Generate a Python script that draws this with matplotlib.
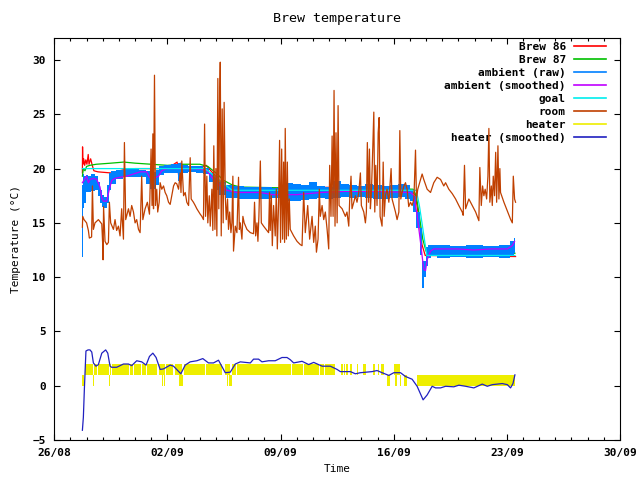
import matplotlib
matplotlib.use("Agg")
import matplotlib.pyplot as plt
from matplotlib.lines import Line2D
from matplotlib.ticker import MultipleLocator

plt.rcParams['font.family'] = ['DejaVu Sans Mono']
plt.rcParams['font.size'] = 8
plt.rcParams['font.weight'] = 'bold'

# x values are days since 26/08 00:00
tick_days = [0, 7, 14, 21, 28, 35]
tick_labels = ["26/08", "02/09", "09/09", "16/09", "23/09", "30/09"]

brew86_t = [1.74, 1.75, 1.77, 1.82, 1.88, 1.95, 2.02, 2.10, 2.15, 2.25, 2.35, 2.45, 2.70, 3.50,
            4.30, 5.00, 7.00, 7.60, 7.70, 7.80, 7.90, 9.00, 9.40, 9.80, 10.20, 10.70, 11.50,
            14.0, 18.0, 22.10, 22.35, 22.55, 22.75, 22.95, 28.54]
brew86_v = [19.6, 22.0, 20.4, 20.9, 20.3, 20.8, 20.4, 21.3, 20.4, 20.9, 20.3, 19.8, 19.7, 19.6,
            19.9, 20.0, 20.0, 20.6, 19.3, 20.5, 20.0, 20.1, 20.3, 19.6, 18.9, 18.3, 18.1,
            18.2, 18.3, 18.0, 17.5, 15.5, 13.0, 12.0, 11.9]

brew87_t = [1.74, 1.80, 1.90, 2.00, 2.20, 2.60, 3.50, 4.30, 5.00, 6.00, 7.00, 8.00, 9.00, 9.50,
            10.00, 10.50, 11.00, 11.50, 15.00, 20.00, 22.20, 22.40, 22.60, 22.80, 23.00, 28.50]
brew87_v = [19.3, 20.0, 19.8, 20.2, 20.3, 20.4, 20.5, 20.6, 20.5, 20.4, 20.3, 20.4, 20.4, 20.2,
            19.6, 18.9, 18.5, 18.3, 18.2, 18.2, 18.1, 17.5, 15.5, 13.5, 12.4, 12.2]

ambient_raw_t = [1.72, 1.80, 1.90, 2.00, 2.20, 2.40, 2.60, 2.80, 2.90, 3.00, 3.20, 3.35, 3.45,
                 3.60, 4.00, 4.50, 5.00, 5.50, 5.80, 6.00, 6.20, 6.40, 6.60, 7.00, 7.50, 7.80,
                 8.00, 8.50, 9.00, 9.40, 9.70, 10.00, 10.40, 10.80, 11.20, 11.50, 12.00, 13.00,
                 14.00, 14.50, 15.00, 15.50, 16.00, 16.50, 17.00, 17.50, 18.00, 18.50, 19.00,
                 19.50, 20.00, 20.50, 21.00, 21.50, 21.90, 22.10, 22.30, 22.50, 22.70, 22.85,
                 22.95, 23.05, 23.20, 23.40, 24.00, 25.00, 26.00, 27.00, 28.00, 28.40, 28.50]
ambient_raw_low = [11.9, 16.4, 16.8, 17.8, 17.8, 17.9, 18.0, 17.5, 16.8, 16.5, 16.4, 16.8, 18.0,
                   18.6, 19.0, 19.2, 19.2, 19.2, 18.6, 18.1, 18.1, 18.5, 19.4, 19.6, 19.6, 18.9,
                   19.6, 19.7, 19.6, 19.5, 18.8, 18.0, 17.6, 17.3, 17.3, 17.2, 17.2, 17.2,
                   17.3, 17.0, 17.0, 17.1, 17.2, 17.3, 17.2, 17.3, 17.4, 17.3, 17.4,
                   17.3, 17.2, 17.2, 17.3, 17.4, 17.2, 17.0, 16.0, 14.5, 12.0, 9.0,
                   10.0, 11.0, 11.8, 12.0, 11.8, 11.9, 11.8, 11.9, 11.8, 12.0, 12.2]
ambient_raw_high = [18.5, 19.5, 19.3, 19.4, 19.3, 19.5, 19.3, 18.8, 18.0, 17.6, 17.4, 18.5, 19.6,
                    19.8, 19.9, 20.0, 20.0, 19.9, 19.8, 19.6, 19.7, 19.9, 20.2, 20.3, 20.4, 20.5,
                    20.3, 20.2, 20.2, 20.1, 19.6, 19.3, 18.8, 18.5, 18.4, 18.4, 18.3, 18.3,
                    18.2, 18.7, 18.6, 18.5, 18.8, 18.4, 18.3, 18.9, 18.6, 18.5, 18.4,
                    18.6, 18.5, 18.4, 18.5, 18.6, 18.5, 18.0, 17.5, 16.0, 14.5, 11.5,
                    11.5, 12.8, 13.0, 13.0, 13.0, 12.9, 13.0, 12.9, 13.0, 13.3, 13.6]

ambient_smooth_t = [1.74, 2.00, 2.11, 2.22, 2.42, 2.63, 2.83, 2.94, 3.04, 3.24, 3.41, 3.55, 3.76,
                    4.07, 4.48, 5.31, 5.72, 5.89, 6.14, 6.45, 6.65, 6.96, 7.58, 8.61, 9.23, 9.44,
                    9.85, 10.27, 10.68, 11.30, 12.74, 13.5, 15.0, 16.5, 18.0, 20.0, 22.04, 22.25,
                    22.45, 22.66, 22.86, 22.97, 23.07, 23.28, 23.48, 24.93, 25.96, 27.00, 28.03,
                    28.34, 28.48]
ambient_smooth_v = [18.7, 19.3, 18.7, 19.0, 19.1, 19.0, 18.3, 17.3, 17.0, 17.0, 18.1, 18.9, 19.1,
                    19.2, 19.3, 19.7, 19.7, 19.2, 19.1, 19.3, 19.8, 20.0, 20.0, 20.0, 19.9, 19.8,
                    19.0, 18.4, 18.0, 17.8, 17.8, 17.6, 17.6, 17.8, 17.9, 17.9, 17.8, 17.5,
                    15.7, 13.2, 10.7, 10.6, 11.6, 12.4, 12.6, 12.6, 12.5, 12.6, 12.6,
                    12.9, 13.3]

goal_t = [1.74, 9.30, 9.60, 10.00, 10.50, 11.00, 22.40, 22.60, 22.80, 23.05, 28.50]
goal_v = [20.0, 20.0, 19.7, 19.2, 18.6, 18.0, 18.0, 16.5, 14.5, 12.0, 12.0]

room_t = [1.74, 1.76, 1.84, 2.00, 2.11, 2.17, 2.31, 2.36, 2.42, 2.52, 2.73, 2.94, 3.00, 3.02,
          3.05, 3.14, 3.25, 3.35, 3.41, 3.49, 3.66, 3.76, 3.86, 3.97, 4.07, 4.17, 4.28, 4.34,
          4.42, 4.59, 4.69, 4.79, 4.90, 5.00, 5.10, 5.21, 5.31, 5.41, 5.48, 5.62, 5.76, 5.89,
          5.99, 6.05, 6.10, 6.14, 6.20, 6.26, 6.34, 6.40, 6.49, 6.55, 6.65, 6.76, 6.86, 6.96,
          7.07, 7.17, 7.27, 7.38, 7.48, 7.58, 7.69, 7.79, 7.84, 7.89, 8.00, 8.10, 8.20, 8.31,
          8.41, 8.47, 8.61, 8.72, 8.82, 9.03, 9.13, 9.23, 9.30, 9.36, 9.44, 9.50, 9.59, 9.65,
          9.75, 9.81, 9.87, 9.94, 10.00, 10.06, 10.12, 10.18, 10.23, 10.27, 10.33, 10.39,
          10.45, 10.51, 10.58, 10.64, 10.72, 10.78, 10.85, 10.93, 10.99, 11.05, 11.09, 11.20,
          11.30, 11.40, 11.45, 11.51, 11.61, 11.67, 11.75, 11.92, 12.13, 12.33, 12.39, 12.46,
          12.54, 12.60, 12.66, 12.75, 12.81, 12.95, 13.16, 13.26, 13.32, 13.36, 13.43, 13.49,
          13.57, 13.67, 13.74, 13.80, 13.88, 13.94, 14.00, 14.07, 14.13, 14.19, 14.25, 14.29,
          14.36, 14.42, 14.48, 14.54, 14.60, 14.81, 15.02, 15.22, 15.33, 15.43, 15.53, 15.68,
          15.80, 15.95, 16.05, 16.15, 16.22, 16.32, 16.40, 16.46, 16.57, 16.67, 16.77, 16.88,
          16.98, 17.04, 17.12, 17.19, 17.25, 17.31, 17.37, 17.43, 17.50, 17.56, 17.62, 17.81,
          18.01, 18.11, 18.22, 18.28, 18.36, 18.42, 18.53, 18.63, 18.73, 18.84, 18.94, 19.00,
          19.15, 19.25, 19.31, 19.37, 19.44, 19.50, 19.56, 19.62, 19.68, 19.77, 19.83, 19.89,
          19.97, 20.04, 20.10, 20.16, 20.28, 20.35, 20.41, 20.49, 20.59, 20.70, 20.84, 20.90,
          21.11, 21.21, 21.32, 21.38, 21.44, 21.52, 21.63, 21.73, 21.83, 21.93, 22.04, 22.14,
          22.25, 22.35, 22.41, 22.49, 22.66, 22.76, 22.86, 23.07, 23.28, 23.48, 23.69, 23.90,
          24.10, 24.21, 24.41, 24.62, 24.83, 25.03, 25.24, 25.30, 25.38, 25.45, 25.65, 25.86,
          26.07, 26.27, 26.33, 26.42, 26.50, 26.58, 26.66, 26.75, 26.83, 26.89, 26.95, 27.04,
          27.10, 27.16, 27.24, 27.31, 27.37, 27.45, 27.51, 27.57, 27.61, 27.82, 28.03, 28.24,
          28.34, 28.40, 28.48, 28.54]
room_v = [14.6, 15.6, 15.3, 15.0, 14.3, 13.6, 13.7, 18.4, 14.4, 15.0, 15.3, 14.9, 12.9, 11.6,
          16.5, 13.3, 13.0, 13.2, 16.9, 15.0, 14.4, 15.3, 14.3, 14.7, 13.8, 16.3, 13.5, 22.4,
          15.3, 16.3, 15.6, 16.6, 16.0, 15.0, 15.3, 14.4, 14.1, 19.3, 15.3, 16.3, 16.9, 15.8,
          21.8, 16.6, 23.2, 16.3, 28.6, 16.6, 18.1, 16.0, 16.9, 18.7, 18.1, 18.4, 17.8, 17.5,
          16.9, 16.7, 17.5, 18.4, 18.7, 18.6, 18.1, 19.6, 17.8, 20.7, 17.5, 17.8, 16.9, 16.6,
          21.0, 17.2, 16.9, 16.6, 16.3, 15.8, 15.6, 15.3, 24.1, 15.6, 19.3, 15.0, 17.5, 14.7,
          18.1, 14.3, 22.1, 14.4, 20.0, 13.8, 28.3, 16.3, 26.1, 29.8, 13.8, 25.5,
          15.0, 26.1, 17.5, 15.3, 17.2, 14.4, 16.0, 14.1, 15.0, 19.3, 12.4, 14.7,
          14.1, 19.2, 14.4, 15.0, 13.5, 15.6, 15.0, 14.4, 14.1, 14.0, 16.9, 13.8,
          15.0, 13.3, 15.6, 20.7, 15.0, 14.7, 14.3, 14.1, 17.8, 14.3, 17.5, 12.9,
          16.6, 13.8, 18.1, 12.6, 16.9, 22.6, 13.2, 21.8, 13.5, 20.6, 13.2, 23.7,
          13.5, 20.6, 13.8, 17.2, 14.4, 13.8, 13.3, 13.0, 12.9, 17.8, 14.1, 16.6,
          13.5, 15.6, 13.2, 14.7, 12.3, 13.5, 18.1, 15.6, 16.6, 15.3, 16.0, 14.4,
          12.6, 20.3, 15.6, 23.0, 15.6, 27.2, 14.7, 23.3, 15.0, 25.8, 16.6, 16.3,
          15.6, 16.0, 14.7, 17.2, 19.3, 16.3, 16.9, 17.5, 16.9, 17.8, 19.6, 16.6,
          16.0, 15.0, 16.0, 22.4, 16.9, 21.8, 16.3, 17.8, 20.6, 25.2, 16.0, 20.3,
          16.6, 23.3, 24.7, 15.6, 14.7, 20.6, 15.6, 17.5, 18.1, 16.9, 20.0, 17.2,
          16.0, 15.3, 16.0, 23.5, 17.2, 17.8, 18.4, 18.7, 18.1, 16.5, 16.9, 16.6,
          17.2, 21.7, 17.2, 18.1, 19.0, 19.5, 19.0, 18.1, 17.8, 18.7, 19.2, 19.0,
          18.4, 18.7, 18.1, 17.7, 17.2, 16.6, 16.0, 15.7, 20.3, 16.3, 17.2, 16.6,
          16.0, 15.2, 20.1, 16.6, 18.4, 17.5, 18.1, 17.2, 19.3, 23.7, 16.9, 18.4,
          16.6, 19.3, 17.5, 21.5, 16.9, 22.1, 17.2, 20.0, 17.8, 16.9, 16.1, 15.3,
          15.0, 19.3, 17.2, 16.9]

# heater state: on (band 1..2) and idle/low (band 0..1), start and end days
heater_high_start = [1.92, 2.45, 2.72, 3.44, 3.59, 4.21, 4.68, 4.93, 5.40, 5.71, 6.48, 6.89, 7.49,
                     8.00, 8.48, 9.37, 10.55, 11.00, 11.29, 11.39, 14.70, 15.46, 16.45, 16.76,
                     17.76, 17.95, 18.05, 18.32, 18.74, 19.08, 19.70, 20.01, 20.24, 21.05]
heater_high_end = [2.40, 2.67, 3.39, 3.54, 4.16, 4.63, 4.88, 5.35, 5.66, 6.33, 6.84, 7.37, 7.88,
                   8.43, 9.32, 10.40, 10.87, 11.24, 11.34, 14.65, 15.41, 16.40, 16.71, 17.39,
                   17.84, 17.99, 18.18, 18.43, 18.80, 19.31, 19.87, 20.12, 20.38, 21.42]
heater_low_start = [1.72, 2.40, 3.38, 6.65, 6.80, 7.73, 10.41, 10.68, 10.84, 20.60, 21.11, 21.36,
                    21.62, 22.45]
heater_low_end = [1.84, 2.45, 3.43, 6.72, 6.84, 7.96, 10.45, 10.76, 10.99, 20.80, 21.22, 21.46,
                  21.83, 28.50]

heater_smooth_t = [1.74, 1.80, 1.86, 1.92, 1.96, 2.09, 2.21, 2.32, 2.42, 2.58, 2.73, 2.94, 3.18,
                   3.31, 3.45, 3.55, 3.86, 4.28, 4.59, 4.79, 5.10, 5.41, 5.68, 5.89, 6.10, 6.30,
                   6.55, 6.76, 7.17, 7.38, 7.83, 8.10, 8.41, 8.82, 9.19, 9.54, 9.85, 10.16,
                   10.58, 10.89, 11.20, 11.51, 12.13, 12.33, 12.64, 12.85, 13.26, 13.67, 14.09,
                   14.40, 14.60, 14.81, 15.33, 15.74, 16.05, 16.57, 17.08, 17.50, 17.70, 18.32,
                   18.63, 18.94, 19.66, 19.97, 20.28, 20.70, 21.01, 21.42, 21.73, 22.14, 22.45,
                   22.82, 23.07, 23.38, 23.59, 23.90, 24.21, 24.72, 25.03, 25.45, 25.96, 26.48,
                   26.79, 27.10, 27.72, 28.03, 28.23, 28.38, 28.50]
heater_smooth_v = [-4.1, -2.9, -0.4, 1.8, 3.2, 3.3, 3.3, 3.1, 2.1, 1.8, 1.95, 3.0, 3.3,
                   3.0, 1.8, 1.7, 1.7, 2.0, 2.0, 1.85, 2.3, 2.2, 1.9, 2.7, 3.0, 2.6,
                   1.5, 1.55, 1.9, 1.8, 1.1, 1.9, 2.2, 2.3, 2.5, 2.1, 2.1, 2.35,
                   1.2, 1.25, 2.0, 2.2, 2.1, 2.45, 2.45, 2.2, 2.3, 2.3, 2.6,
                   2.6, 2.4, 2.1, 2.25, 1.95, 2.15, 1.8, 1.8, 1.5, 1.3, 1.3,
                   1.1, 1.2, 1.3, 1.4, 1.2, 0.95, 1.2, 1.2, 0.85, 0.6, -0.05,
                   -1.3, -0.85, -0.05, -0.2, -0.2, -0.05, -0.1, 0.05, -0.05, -0.2, 0.15,
                   -0.05, 0.1, 0.2, 0.1, -0.2, 0.2, 1.0]

c_brew86 = '#ff0000'
c_brew87 = '#00c000'
c_raw = '#0080ff'
c_smooth = '#c000ff'
c_goal = '#00eeee'
c_room = '#c04000'
c_heater = '#eeee00'
c_heater_s = '#2020c0'

fig = plt.figure(figsize=(6.4, 4.8), dpi=100)
ax = fig.add_axes([0.0848, 0.0833, 0.8839, 0.8369])
lw = 0.9

ax.plot(brew86_t, brew86_v, color=c_brew86, lw=lw, zorder=2)
ax.plot(brew87_t, brew87_v, color=c_brew87, lw=lw, zorder=3)
ax.fill_between(ambient_raw_t, ambient_raw_low, ambient_raw_high, step='mid',
                color=c_raw, lw=0, zorder=4)
ax.plot(ambient_smooth_t, ambient_smooth_v, color=c_smooth, lw=lw, zorder=5)
ax.plot(goal_t, goal_v, color=c_goal, lw=lw, zorder=6)
ax.plot(room_t, room_v, color=c_room, lw=lw, zorder=7)
ax.broken_barh([(s, e - s) for s, e in zip(heater_high_start, heater_high_end)], (1, 1),
               facecolors=c_heater, lw=0, antialiased=False, zorder=8)
ax.broken_barh([(s, e - s) for s, e in zip(heater_low_start, heater_low_end)], (0, 1),
               facecolors=c_heater, lw=0, antialiased=False, zorder=8)
ax.plot(heater_smooth_t, heater_smooth_v, color=c_heater_s, lw=lw, zorder=9)

ax.set_xlim(0, 35)
ax.set_ylim(-5, 32)
ax.set_xticks(tick_days)
ax.set_xticklabels(tick_labels)
ax.xaxis.set_minor_locator(MultipleLocator(1))
ax.set_yticks(range(-5, 31, 5))
ax.tick_params(which='both', direction='in', top=True, right=True, width=0.8)
ax.tick_params(which='major', length=4.5)
ax.tick_params(which='minor', length=2.3)
ax.tick_params(axis='x', pad=6)
ax.tick_params(axis='y', pad=6)
for s in ax.spines.values():
    s.set_linewidth(0.8)

ax.set_title("Brew temperature", pad=12)
ax.set_xlabel("Time", labelpad=4)
ax.set_ylabel("Temperature (°C)", labelpad=8)

names = ["Brew 86", "Brew 87", "ambient (raw)", "ambient (smoothed)", "goal", "room",
         "heater", "heater (smoothed)"]
cols = [c_brew86, c_brew87, c_raw, c_smooth, c_goal, c_room, c_heater, c_heater_s]
handles = [Line2D([], [], color=c, lw=1.2) for c in cols]
ax.legend(handles, names, loc='upper right', bbox_to_anchor=(0.975, 0.99), frameon=False,
          markerfirst=False, handlelength=2.9, handletextpad=0.7, labelspacing=0.27,
          borderpad=0, borderaxespad=0)

fig.savefig("out.png", dpi=100)
